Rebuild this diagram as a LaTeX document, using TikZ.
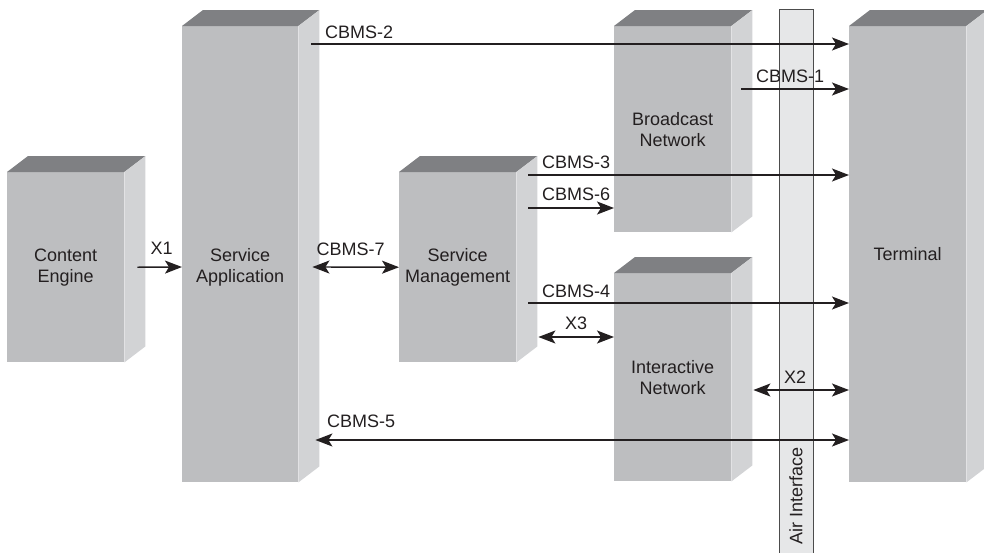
\documentclass[tikz,border=0pt]{standalone}
\usepackage{fontspec}
\setmainfont{Liberation Sans}
\usepackage{xcolor}
\usetikzlibrary{arrows.meta}

\definecolor{frente}{RGB}{189,190,192}
\definecolor{tapa}{RGB}{127,128,131}
\definecolor{lado}{RGB}{210,211,213}
\definecolor{aire}{RGB}{230,231,232}
\definecolor{tinta}{RGB}{35,31,32}

\begin{document}
\begin{tikzpicture}[
  x=1pt, y=-1pt,
  bloque/.style={rectangle, fill=frente, anchor=north west, inner sep=0pt,
               minimum width=117pt, align=center, text=tinta,
               font=\fontsize{18}{21}\selectfont},
  etiqueta/.style={inner sep=0pt, text=tinta, font=\fontsize{18}{21}\selectfont},
  flecha/.style={-{Stealth[length=17pt, width=13pt, inset=4pt]},
               line width=1.4pt, draw=tinta},
  doble/.style={flecha, {Stealth[length=17pt, width=13pt, inset=4pt]}-{Stealth[length=17pt, width=13pt, inset=4pt]}}
]
\useasboundingbox (0,0) rectangle (984,552);
\clip (0,0) rectangle (984,552);

% bloques
\node[bloque, minimum height=190pt] (contenido) at (7,172) {Content\\ Engine};
\node[bloque, minimum width=116pt, minimum height=456pt] (aplicacion) at (182,26) {};
\node[bloque, minimum height=190pt] (gestion) at (399,172) {Service\\ Management};
\node[bloque, minimum height=206pt] (difusion) at (614,26) {Broadcast\\ Network};
\node[bloque, minimum height=208pt] (interactiva) at (614,273) {Interactive\\ Network};
\node[bloque, minimum height=456pt] (terminal) at (849,26) {Terminal};
\node[etiqueta, align=center] (aplicacionTxt) at ([shift={(0,13)}]aplicacion.center) {Service\\ Application};

% caras de arriba y del lado
\foreach \n in {contenido,aplicacion,gestion,difusion,interactiva,terminal}{
  \fill[tapa] (\n.north west) -- ++(21,-16) -- ([shift={(21,-16)}]\n.north east)
    -- (\n.north east) -- cycle;
  \fill[lado] (\n.north east) -- ++(21,-16) -- ([shift={(21,-16)}]\n.south east)
    -- (\n.south east) -- cycle;
}

% interfaz aire
\node[rectangle, draw=black!70, fill=aire, line width=1pt, anchor=north west,
      minimum width=34pt, minimum height=570pt, inner sep=0pt] (aire) at (779,9) {};
\node[etiqueta, rotate=90] (aireTxt) at (796,496) {Air Interface};

% flechas
\draw[flecha] ([shift={(13,18)}]aplicacion.north east) -- ([shift={(0,18)}]terminal.north west)
  node[pos=0, anchor=base west, shift={(13,-6)}, etiqueta] (lblDos) {CBMS-2};
\draw[flecha] ([shift={(10,63)}]difusion.north east) -- ([shift={(0,63)}]terminal.north west)
  node[midway, anchor=base, shift={(-5,-7)}, etiqueta] (lblUno) {CBMS-1};
\draw[flecha] ([shift={(12,3)}]gestion.north east) -- ([shift={(0,149)}]terminal.north west)
  node[pos=0, anchor=base west, shift={(13,-7)}, etiqueta] (lblTres) {CBMS-3};
\draw[flecha] ([shift={(12,36)}]gestion.north east) -- ([shift={(0,182)}]difusion.north west)
  node[pos=0, anchor=base west, shift={(13,-8)}, etiqueta] (lblSeis) {CBMS-6};
\draw[flecha] ([shift={(12,131)}]gestion.north east) -- ([shift={(0,277)}]terminal.north west)
  node[pos=0, anchor=base west, shift={(13,-6)}, etiqueta] (lblCuatro) {CBMS-4};
\draw[doble] ([shift={(22,165)}]gestion.north east) -- ([shift={(0,64)}]interactiva.north west)
  node[midway, anchor=base, shift={(0,-8)}, etiqueta] (lblXtres) {X3};
\draw[doble] ([shift={(22,117)}]interactiva.north east) -- ([shift={(0,364)}]terminal.north west)
  node[midway, anchor=base, shift={(-6,-7)}, etiqueta] (lblXdos) {X2};
\draw[doble] ([shift={(17,414)}]aplicacion.north east) -- ([shift={(0,414)}]terminal.north west)
  node[pos=0, anchor=base west, shift={(11,-13)}, etiqueta] (lblCinco) {CBMS-5};
\draw[flecha] ([shift={(13,0)}]contenido.east) -- ([shift={(0,241)}]aplicacion.north west)
  node[midway, anchor=base, shift={(2,-13)}, etiqueta] (lblXuno) {X1};
\draw[doble] ([shift={(14,241)}]aplicacion.north east) -- (gestion.west)
  node[midway, anchor=base, shift={(-5,-12)}, etiqueta] (lblSiete) {CBMS-7};
\end{tikzpicture}
\end{document}
